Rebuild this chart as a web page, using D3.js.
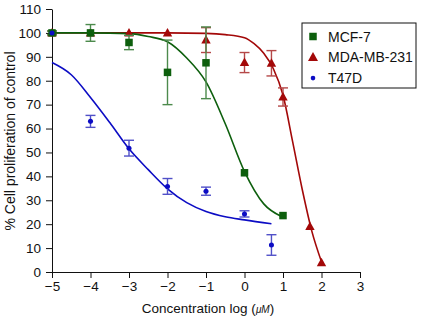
<!DOCTYPE html>
<html>
<head>
<meta charset="utf-8">
<script src="https://cdn.jsdelivr.net/npm/d3@7"></script>
<style>
  body { margin: 0; background: #fff; }
  svg { display: block; font-family: "Liberation Sans", Arial, sans-serif; }
</style>
</head>
<body>
<svg id="drawing_region"></svg>
<script>
// measured points (mean and half error bar)
const mcfX   = [-5, -4, -3, -2, -1, 0, 1];
const mcfY   = [100, 100, 96, 83.5, 87.5, 41.5, 23.6];
const mcfErr = [0.8, 3.5, 3, 13.5, 15, 0, 0];

const mdaX   = [-5, -4, -3, -2, -1, 0, 0.7, 1, 1.7, 2];
const mdaY   = [100, 100, 100, 100, 97, 87.6, 87.3, 73.2, 19, 3.9];
const mdaErr = [0.8, 0, 0, 0, 5.2, 4.2, 5.3, 3.8, 0, 0];

const t47X   = [-5, -4, -3, -2, -1, 0, 0.7];
const t47Y   = [100, 63, 51.8, 35.8, 33.8, 24.3, 11.3];
const t47Err = [0, 2.5, 3.3, 3.3, 1.7, 1.3, 4.3];

// fitted curves
const mcfFitX = [-5, -4, -3, -2.5, -2, -1.5, -1, -0.5, 0, 0.5, 0.95];
const mcfFitY = [100, 100, 99.7, 98.5, 96.3, 89.5, 79.5, 62, 42, 28.5, 23.3];
const mdaFitX = [-5, -2, -1, -0.5, 0, 0.25, 0.5, 0.75, 1, 1.25, 1.5, 1.75, 2];
const mdaFitY = [100, 100, 99.8, 99.3, 98, 95.5, 91.5, 85, 74, 54.5, 34.5, 17, 4.3];
const t47FitX = [-5, -4.5, -4, -3.5, -3, -2.5, -2, -1.5, -1, -0.5, 0, 0.7];
const t47FitY = [87.6, 82.5, 73, 62.5, 51.5, 42.8, 34.8, 29, 25.3, 23.1, 21.8, 20.2];

const xTicks = [-5, -4, -3, -2, -1, 0, 1, 2, 3];
const yTicks = [0, 10, 20, 30, 40, 50, 60, 70, 80, 90, 100, 110];

const width = 422, height = 320;
const margin = {top: 9, right: 62, bottom: 48, left: 52};
const innerW = width - margin.left - margin.right;
const innerH = height - margin.top - margin.bottom;

const series = [
  {name: "MDA-MB-231", color: "#a30808", bar: "#b54848", shape: "tri",
   x: mdaX, y: mdaY, e: mdaErr, fx: mdaFitX, fy: mdaFitY},
  {name: "MCF-7", color: "#0d5f0d", bar: "#4c8a4c", shape: "sq",
   x: mcfX, y: mcfY, e: mcfErr, fx: mcfFitX, fy: mcfFitY},
  {name: "T47D", color: "#0c0cc4", bar: "#5050c8", shape: "dot",
   x: t47X, y: t47Y, e: t47Err, fx: t47FitX, fy: t47FitY}
];

const svg = d3.select('#drawing_region')
    .attr('width', width)
    .attr('height', height);
const chart = svg.append('g')
    .attr('transform', `translate(${margin.left}, ${margin.top})`);

const xscale = d3.scaleLinear().domain([-5, 3]).range([0, innerW]);
const yscale = d3.scaleLinear().domain([0, 110]).range([innerH, 0]);

const xaxis = d3.axisBottom(xscale).tickValues(xTicks).tickSize(6).tickSizeOuter(0).tickPadding(3);
const yaxis = d3.axisLeft(yscale).tickValues(yTicks).tickSize(6).tickSizeOuter(0).tickPadding(5);

const xg = chart.append('g')
    .attr('transform', `translate(0, ${innerH})`)
    .call(xaxis);
const yg = chart.append('g').call(yaxis);
[xg, yg].forEach(g => {
  g.selectAll('text').attr('font-size', '13.5px').attr('fill', '#111')
      .attr('font-family', '"Liberation Sans", Arial, sans-serif');
  g.selectAll('line, path').attr('stroke', '#111');
});

// axis titles
svg.append('text')
    .attr('x', 208).attr('y', 313)
    .attr('text-anchor', 'middle')
    .attr('font-size', '13.5px').attr('fill', '#111')
    .text('Concentration log (')
    .append('tspan').attr('font-style', 'italic').attr('font-size', '10px').text('μM')
    .select(function() { return this.parentNode; })
    .append('tspan').text(')');

svg.append('text')
    .attr('transform', 'rotate(-90)')
    .attr('x', -141).attr('y', 15)
    .attr('text-anchor', 'middle')
    .attr('font-size', '14px').attr('fill', '#111')
    .text('% Cell proliferation of control');

const line = d3.line()
    .x(d => xscale(d[0]))
    .y(d => yscale(d[1]))
    .curve(d3.curveMonotoneX);

function marker(sel, s, size) {
  if (s.shape === 'sq') {
    sel.append('rect').attr('x', -size / 2).attr('y', -size / 2)
        .attr('width', size).attr('height', size).attr('fill', s.color);
  } else if (s.shape === 'tri') {
    const r = size * 0.62;
    sel.append('path')
        .attr('d', `M0,${-r} L${r * 0.95},${r * 0.7} L${-r * 0.95},${r * 0.7}Z`)
        .attr('fill', s.color);
  } else {
    sel.append('circle').attr('r', size * 0.42).attr('fill', s.color);
  }
}

// curves
series.forEach(s => {
  chart.append('path')
      .datum(d3.zip(s.fx, s.fy))
      .attr('fill', 'none')
      .attr('stroke', s.color)
      .attr('stroke-width', 1.6)
      .attr('d', line);
});

// error bars and points
series.forEach(s => {
  const pts = s.x.map((x, i) => ({x: x, y: s.y[i], e: s.e[i]}));
  const eb = chart.append('g');
  pts.filter(d => d.e > 0).forEach(d => {
    const cx = xscale(d.x), y1 = yscale(d.y - d.e), y2 = yscale(d.y + d.e);
    eb.append('line').attr('x1', cx).attr('x2', cx).attr('y1', y1).attr('y2', y2);
    eb.append('line').attr('x1', cx - 5).attr('x2', cx + 5).attr('y1', y1).attr('y2', y1);
    eb.append('line').attr('x1', cx - 5).attr('x2', cx + 5).attr('y1', y2).attr('y2', y2);
  });
  eb.selectAll('line').attr('stroke', s.bar).attr('stroke-width', 1.4);
  pts.forEach(d => {
    const g = chart.append('g')
        .attr('transform', `translate(${xscale(d.x)}, ${yscale(d.y)})`);
    marker(g, s, s.shape === 'dot' ? 6 : s.shape === 'tri' ? 8 : 7.5);
  });
});

// legend
const legendOrder = [series[1], series[0], series[2]];
const legend = svg.append('g').attr('transform', 'translate(302, 23)');
legend.append('rect')
    .attr('width', 114).attr('height', 65)
    .attr('fill', '#fff').attr('stroke', '#111').attr('stroke-width', 1);
legendOrder.forEach((s, i) => {
  const row = legend.append('g').attr('transform', `translate(0, ${13.5 + i * 20.8})`);
  const m = row.append('g').attr('transform', 'translate(11, 0)');
  marker(m, s, s.shape === 'dot' ? 5.5 : s.shape === 'tri' ? 8.5 : 7.5);
  row.append('text')
      .attr('x', 26).attr('y', 5)
      .attr('font-size', '14px').attr('fill', '#111')
      .text(s.name);
});
</script>
</body>
</html>
